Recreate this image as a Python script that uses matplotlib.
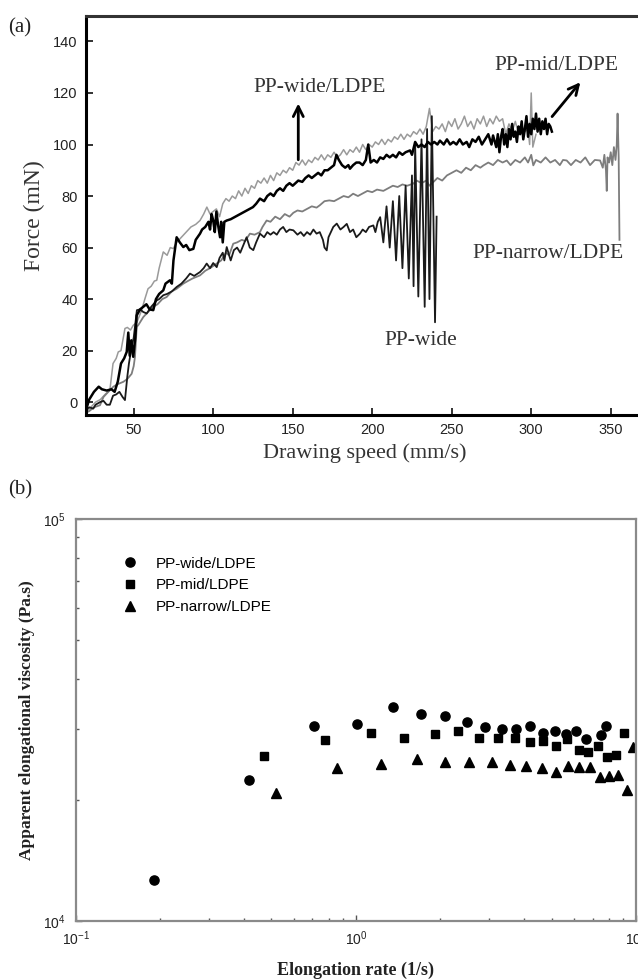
import numpy as np
import matplotlib
matplotlib.use("Agg")
import matplotlib.pyplot as plt
from matplotlib.ticker import LogLocator, NullFormatter

plt.rcParams['font.family'] = ['Liberation Sans', 'DejaVu Sans']
plt.rcParams['mathtext.fontset'] = 'custom'
plt.rcParams['mathtext.rm'] = 'Liberation Sans'
plt.rcParams['mathtext.it'] = 'Liberation Sans'

SERIF = 'Liberation Serif'

# ---- panel (a): force vs drawing speed ----
wide_ldpe_x = [20, 23, 26, 29, 32, 35, 37, 39, 40.3, 42, 44.5, 46, 48, 49.7, 52, 55, 57, 59, 61, 63,
               64.5, 66, 68.6, 71, 73, 74.9, 77, 80, 83, 86, 89, 91.7, 94, 96, 98, 100, 102, 104, 106, 108,
               110, 112, 114, 116, 118, 120, 122, 124, 126, 128, 130, 132, 134, 136, 138, 140, 142, 144, 146, 148,
               150, 152, 154, 156, 158, 160, 162, 164, 166, 168, 170, 172, 174, 176, 178, 180, 182, 184, 186, 188,
               190, 192, 194, 196, 198, 200, 202, 204, 206, 208, 210, 212, 214, 216, 218, 220, 222, 224, 226, 228,
               230, 232, 234, 236, 238, 240, 242, 244, 246, 248, 250, 252, 254, 256, 258, 260, 262, 264, 266, 268,
               270, 272, 274, 276, 278, 280, 282, 284, 286, 288, 290, 292, 294, 296, 298, 299, 300, 301, 303]
wide_ldpe_y = [-4, -2, 0, 1, 3, 4.6, 15, 17, 19.5, 20, 28.6, 29, 28, 29.8, 31, 35.7, 40, 44, 45, 47,
               47.3, 52, 58.3, 57, 60, 59.6, 62, 64, 66, 68, 69, 70.5, 73, 75.7, 73, 74, 75, 72, 77, 79,
               78, 80, 79, 82, 80, 83, 81, 84, 83, 86, 85, 87, 85, 88, 86, 89, 88, 90, 89, 91,
               90, 93, 92, 94, 92, 94, 93, 95, 94, 96, 94, 96, 95, 97, 95, 96, 98, 96, 98, 97,
               99, 97, 100, 98, 100, 99, 101, 100, 102, 100, 102, 101, 103, 102, 104, 102, 104, 103, 105, 104,
               106, 104, 107, 114, 105, 107, 106, 108, 105, 109, 107, 110, 106, 108, 111, 107, 109, 106, 110, 108,
               111, 107, 110, 108, 111, 109, 110, 104, 108, 105, 109, 104, 107, 105, 106, 100, 120, 99, 104]

mid_ldpe_x = [20, 22, 25, 28, 30, 33, 36, 38, 40, 42, 44, 45.6, 46.6, 47.5, 48.5, 49.7, 51, 51.9, 54, 56,
              58, 60, 62.3, 64, 66, 68.6, 70, 72.8, 74, 75, 77, 79, 81.2, 83, 85, 87.5, 89, 91.7, 93, 95,
              97, 98, 99, 100, 101, 102, 103, 104.3, 105, 106, 107, 108.5, 111, 114, 117, 120, 123, 125, 127, 129.4,
              132, 134, 136, 138, 140, 142, 144, 146, 148, 150, 153.5, 156, 158, 160, 162, 164, 166, 168, 170, 172,
              174, 176, 177.5, 179, 181, 183, 185, 186, 188, 190, 192, 194, 196, 197.5, 199, 201, 203, 205, 207, 209,
              211, 213, 215, 217, 219, 221, 223.8, 225, 227, 229, 231, 233, 235, 237, 239, 241, 242.6, 245, 247, 249,
              251, 253, 255, 257, 259.4, 261, 263, 265, 267, 269, 271, 273, 275, 276, 278, 279, 280, 281, 282, 283,
              284, 285, 286, 287, 288, 289, 290, 291, 292, 293, 294, 295, 296, 297, 298, 299, 300, 301, 302, 303,
              304, 305, 306, 307, 308, 309, 310, 311, 312, 313]
mid_ldpe_y = [-3, 1, 4, 6, 5, 4.5, 5, 4, 8, 15, 17, 19.5, 27, 18, 24, 17.6, 25, 33.7, 36, 37,
              38, 36, 35.7, 40, 42, 43.4, 46, 47.3, 46, 55, 64, 62, 60.2, 61, 59, 59.5, 63, 65.4, 67, 68,
              70, 67, 73, 70.5, 66, 74, 69, 64, 70, 62, 70, 70.5, 71, 72, 73, 74, 75, 75.7, 77, 79,
              78, 80, 81, 80, 82, 83, 82, 84, 85, 84, 86, 85.5, 87, 88, 87, 88, 89, 88, 90, 90,
              91, 92, 96, 94, 92, 91, 92, 90.6, 92, 93, 93, 92, 94, 100, 93, 94, 93, 95, 94.4, 96,
              95, 96, 95, 97, 96, 97, 97.7, 96, 101, 99, 100, 99, 101, 100, 101, 100, 101.5, 100, 102, 100,
              101, 100, 102, 100, 101, 99, 102, 101, 103, 100, 102, 104, 100, 103.5, 99, 104, 97, 103, 106, 100,
              104, 99, 106, 102, 108, 103, 105, 101, 107, 104, 109, 102, 106, 111, 103, 108, 104, 110, 106, 112,
              105, 110, 104, 109, 106, 110, 104, 108, 107, 105]

narrow_ldpe_x = [20, 22, 25, 28.8, 31, 34, 37.2, 40, 43.5, 46, 48.7, 50, 50.8, 51.9, 53, 56, 59, 62.3, 65, 68,
                 70.7, 74, 77, 81.2, 84, 87, 91.7, 95, 98, 102.2, 105, 108, 110, 112.6, 115, 118, 120, 123.1, 126, 129.4,
                 131, 133.6, 136, 139, 142, 145, 148, 150.4, 153, 156, 159, 162, 165, 167, 170, 173, 176, 179, 182, 185,
                 188, 191, 194, 197, 200, 203, 207, 210, 213, 216, 219, 222, 225.8, 228, 231, 234, 236, 238.4, 241, 244,
                 247, 250, 253, 256, 259, 262, 265, 268, 270, 273, 276, 279, 282, 284.6, 287, 290, 293, 296, 298, 300,
                 301.3, 303, 306, 309, 312, 315, 318, 320, 322.3, 325, 328, 331, 334, 337, 340, 343.3, 345, 346, 347, 347.5,
                 348, 349, 350, 351, 352, 353, 353.8, 354.3, 355, 355.5]
narrow_ldpe_y = [-4, -3.5, -2, -1.2, 2, 4, 6, 7, 7.9, 9, 11, 14, 17.6, 29.2, 30, 33, 35, 37, 38, 40,
                 40.8, 43, 44, 46, 47, 48, 49.2, 51, 52, 53.8, 55, 58, 57, 61.5, 62, 63, 62.5, 65.4, 65, 66,
                 68, 70.5, 70, 72, 71, 73, 72, 73.5, 74.4, 74, 75, 76, 75.5, 76.4, 78, 78.3, 78, 79, 80, 79.5,
                 80.9, 80, 81, 82, 81.5, 82.5, 82, 83, 84, 83.5, 84.5, 84, 84.8, 86, 85, 86, 84, 85.4, 87, 86,
                 88, 89, 90, 89, 91, 90, 92, 91, 91.9, 93, 92, 94, 93, 93.8, 92, 94, 93, 95, 93, 96,
                 91.9, 94, 93, 95, 93, 94, 92, 94, 93.8, 92, 94, 93, 95, 92, 94, 93.8, 91, 96, 90, 82,
                 95, 93, 97, 92, 99, 94, 100, 112, 95, 63]

pp_wide_x = [20, 22, 24.6, 26, 28.8, 31, 33, 35, 37, 39, 41, 43, 44.5, 46, 47, 48.7, 50, 52, 54, 56,
             58.2, 61, 64.5, 66, 68.6, 71, 74, 77, 80, 83, 85.4, 88, 91.7, 94, 95.9, 98, 100, 102.2, 104, 106,
             107, 108.5, 110, 111, 113, 115, 117, 119, 121, 123, 125.2, 127, 129.4, 132, 134, 136, 138, 140, 142, 144,
             146, 148, 150.4, 153, 155, 157, 159, 161, 163, 165, 167, 169, 170, 171.4, 172.5, 174, 175.5, 177.7, 180, 182,
             184, 186, 188, 190, 192.3, 194, 196, 198, 200.7, 202, 203.5, 205, 207, 209, 211, 213, 215, 217, 219, 221,
             223, 225, 226, 227, 229, 231, 233, 234.5, 236, 237.5, 239.5, 240.5]
pp_wide_y = [-3, -2, -2.5, -1, 0, 0.5, -1, -1, 2.5, 3, 4, 2, 0.8, 10, 15, 21.4, 25, 35.7, 36, 35,
             34.4, 37, 39.5, 40, 41.5, 42, 43, 44.7, 46, 48, 49.9, 49, 50.5, 52, 53.8, 52, 54, 52.4, 56, 58,
             55, 60.2, 57, 55, 59, 60, 58, 61, 64, 60, 59, 62, 65.4, 64, 66, 65, 66, 65, 67, 68,
             66, 67, 66.7, 65, 66, 64.5, 66, 65, 67, 65.4, 66, 63, 60, 58.9, 64, 66, 68, 69.3, 67, 68,
             69.2, 66, 67, 64, 65.4, 67, 66, 68, 68.6, 66, 70, 71.8, 62, 76, 60, 78, 55, 80, 52, 84,
             48, 88, 45, 100, 41, 102, 37, 106, 40, 111, 31, 72]

# ---- panel (b): apparent elongational viscosity ----
wide_rate = [0.19, 0.417, 0.707, 1.013, 1.354, 1.703, 2.09, 2.50, 2.90, 3.32,
             3.74, 4.20, 4.65, 5.15, 5.64, 6.10, 6.62, 7.51, 7.80]
wide_visc = [12650, 22400, 30550, 30900, 34000, 32700, 32360, 31190, 30320, 30030,
             30080, 30550, 29430, 29700, 29150, 29700, 28300, 29020, 30550]
mid_rate = [0.469, 0.778, 1.137, 1.49, 1.91, 2.31, 2.75, 3.21, 3.69, 4.17,
            4.65, 5.18, 5.66, 6.28, 6.77, 7.30, 7.86, 8.46, 9.06]
mid_visc = [25800, 28200, 29400, 28480, 29150, 29700, 28600, 28480, 28600, 27920,
            28080, 27230, 28370, 26600, 26290, 27300, 25530, 25880, 29320]
narrow_rate = [0.519, 0.856, 1.233, 1.66, 2.09, 2.53, 3.06, 3.56, 4.05, 4.61,
               5.18, 5.71, 6.28, 6.86, 7.45, 8.02, 8.65, 9.29, 9.76]
narrow_visc = [20800, 24000, 24580, 25310, 24910, 24910, 24910, 24430, 24300, 23990,
               23520, 24300, 24110, 24110, 22860, 22950, 23080, 21200, 27040]

fig = plt.figure(figsize=(6.38, 9.8), dpi=100)

# ================= (a) =================
ax1 = fig.add_axes([0.1348, 0.5765, 0.8723, 0.4075])
ax1.plot(wide_ldpe_x, wide_ldpe_y, color='#9a9a9a', lw=1.1)
ax1.plot(narrow_ldpe_x, narrow_ldpe_y, color='#7d7d7d', lw=1.3)
ax1.plot(pp_wide_x, pp_wide_y, color='#1a1a1a', lw=1.3)
ax1.plot(mid_ldpe_x, mid_ldpe_y, color='#000000', lw=1.8)

ax1.set_xlim(20, 370)
ax1.set_ylim(-5, 150)
ax1.set_xticks([50, 100, 150, 200, 250, 300, 350])
ax1.set_yticks([0, 20, 40, 60, 80, 100, 120, 140])
ax1.tick_params(direction='in', length=5, width=1.3, labelsize=10.5, colors='#222222', pad=6)
for side in ['left', 'bottom', 'top', 'right']:
    ax1.spines[side].set_linewidth(2.2)
ax1.spines['top'].set_color('#333333')
ax1.set_xlabel('Drawing speed (mm/s)', family=SERIF, fontsize=16, color='#333333', labelpad=4)
ax1.set_ylabel('Force (mN)', family=SERIF, fontsize=17, color='#333333', labelpad=6)

# curve annotations
ax1.annotate('', xy=(153.5, 117), xytext=(153.5, 93),
             arrowprops=dict(arrowstyle='->', color='black', lw=2, mutation_scale=18))
ax1.text(167, 122, 'PP-wide/LDPE', family=SERIF, fontsize=15.5, color='#333333',
         ha='center', va='center')
ax1.annotate('', xy=(332, 125), xytext=(312, 110),
             arrowprops=dict(arrowstyle='->', color='black', lw=2, mutation_scale=18))
ax1.text(316, 130.6, 'PP-mid/LDPE', family=SERIF, fontsize=15.5, color='#333333',
         ha='center', va='center')
ax1.text(310.6, 57.7, 'PP-narrow/LDPE', family=SERIF, fontsize=15.5, color='#333333',
         ha='center', va='center')
ax1.text(230.7, 24, 'PP-wide', family=SERIF, fontsize=15.5, color='#333333',
         ha='center', va='center')

fig.text(20 / 638, 1 - 28 / 980, '(a)', family=SERIF, fontsize=15, color='#222222',
         ha='center', va='center')
fig.text(20 / 638, 1 - 490 / 980, '(b)', family=SERIF, fontsize=15, color='#222222',
         ha='center', va='center')

# ================= (b) =================
ax2 = fig.add_axes([0.1187, 0.0602, 0.878, 0.4102])
ax2.set_xscale('log')
ax2.set_yscale('log')
ax2.plot(wide_rate, wide_visc, 'o', color='black', ms=6.6, label='PP-wide/LDPE')
ax2.plot(mid_rate, mid_visc, 's', color='black', ms=6, label='PP-mid/LDPE')
ax2.plot(narrow_rate, narrow_visc, '^', color='black', ms=7, label='PP-narrow/LDPE')
ax2.set_xlim(0.1, 10)
ax2.set_ylim(1e4, 1e5)
ax2.yaxis.set_minor_locator(LogLocator(base=10, subs=np.arange(2, 10)))
ax2.xaxis.set_minor_locator(LogLocator(base=10, subs=np.arange(2, 10)))
ax2.yaxis.set_minor_formatter(NullFormatter())
ax2.xaxis.set_minor_formatter(NullFormatter())
ax2.tick_params(which='both', direction='in', colors='#555555', labelcolor='#222222',
                labelsize=10, top=False, right=False)
ax2.tick_params(which='major', length=4, width=1)
ax2.tick_params(which='minor', length=2.5, width=1)
ax2.tick_params(axis='x', which='major', pad=6)
ax2.tick_params(axis='y', which='major', pad=7)
for side in ['left', 'bottom', 'top', 'right']:
    ax2.spines[side].set_linewidth(1.6)
    ax2.spines[side].set_color('#8a8a8a')
ax2.set_xlabel('Elongation rate (1/s)', family=SERIF, fontsize=13, fontweight='bold',
               color='#222222')
ax2.xaxis.set_label_coords(0.5, -0.1)
ax2.set_ylabel('Apparent elongational viscosity (Pa.s)', family=SERIF, fontsize=12.5,
               fontweight='bold', color='#222222', labelpad=6)
ax2.legend(loc='upper left', bbox_to_anchor=(0.07, 0.925), frameon=False, fontsize=11,
           handletextpad=1.2, labelspacing=0.5, borderpad=0, handlelength=1)

fig.savefig('out.png', dpi=100)
